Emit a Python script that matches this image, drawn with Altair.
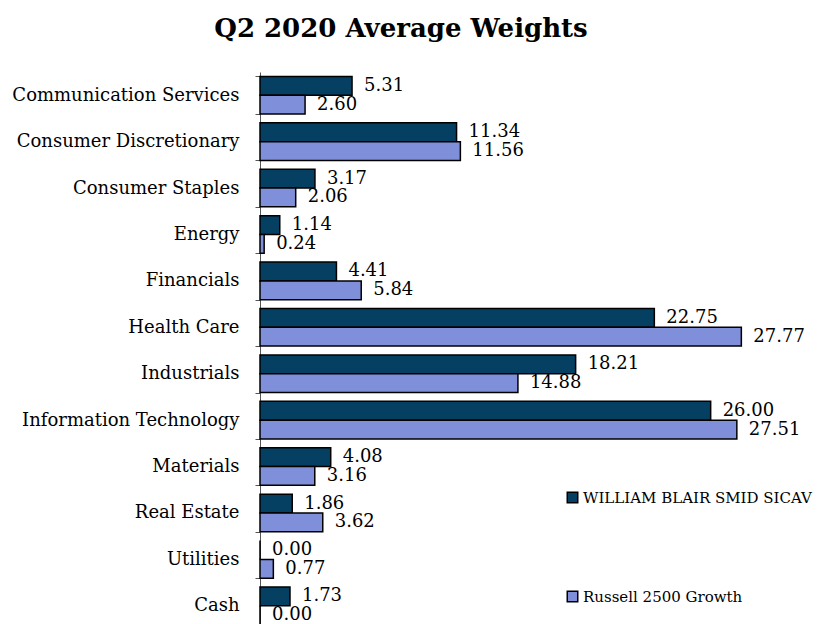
import altair as alt
import pandas as pd

sectors = ["Communication Services", "Consumer Discretionary", "Consumer Staples", "Energy",
           "Financials", "Health Care", "Industrials", "Information Technology",
           "Materials", "Real Estate", "Utilities", "Cash"]
fund = [5.31, 11.34, 3.17, 1.14, 4.41, 22.75, 18.21, 26.00, 4.08, 1.86, 0.00, 1.73]
bench = [2.60, 11.56, 2.06, 0.24, 5.84, 27.77, 14.88, 27.51, 3.16, 3.62, 0.77, 0.00]
series = ["WILLIAM BLAIR SMID SICAV", "Russell 2500 Growth"]
colors = ["#053F62", "#7F8FD9"]

rows = []
for s, f, b in zip(sectors, fund, bench):
    rows.append({"Sector": s, "Series": series[0], "Value": f, "Label": f"{f:.2f}"})
    rows.append({"Sector": s, "Series": series[1], "Value": b, "Label": f"{b:.2f}"})
df = pd.DataFrame(rows)

FONT = "DejaVu Serif"

y = alt.Y("Sector:N", sort=sectors, title=None,
          scale=alt.Scale(paddingInner=0.19, paddingOuter=0.095),
          axis=alt.Axis(labelFont=FONT, labelFontSize=18, labelColor="#000000",
                        labelPadding=16, tickBand="extent", tickSize=5,
                        domainColor="#555555", tickColor="#555555", labelLimit=300))
x = alt.X("Value:Q", title=None, scale=alt.Scale(domain=[0, 30]), axis=None)
yoff = alt.YOffset("Series:N", sort=series)
color = alt.Color("Series:N", sort=series,
                  scale=alt.Scale(domain=series, range=colors),
                  legend=alt.Legend(title=None, orient="none", legendX=305, legendY=418,
                                    labelFont=FONT, labelFontSize=15, labelColor="#000000",
                                    symbolType="square", symbolSize=110,
                                    symbolStrokeColor="#000000", symbolStrokeWidth=1.5,
                                    rowPadding=82, labelOffset=3, labelLimit=400))

bars = alt.Chart(df).mark_bar(stroke="#000000", strokeWidth=1.5).encode(
    x=x, y=y, yOffset=yoff, color=color)

labels = alt.Chart(df).mark_text(align="left", baseline="middle", dx=12,
                                 font=FONT, fontSize=18, color="#000000").encode(
    x=x, y=y, yOffset=yoff, text="Label:N")

chart = (bars + labels).properties(
    width=520, height=557,
    title=alt.TitleParams("Q2 2020 Average Weights", font=FONT, fontSize=26,
                          fontWeight="bold", anchor="middle", dx=-119, offset=21,
                          color="#000000"),
    autosize=alt.AutoSizeParams(type="none"),
    padding={"left": 252, "top": 64, "right": 38, "bottom": 0},
).configure_view(stroke=None)

chart.save("out.html", embed_options={"renderer": "svg", "actions": False})
